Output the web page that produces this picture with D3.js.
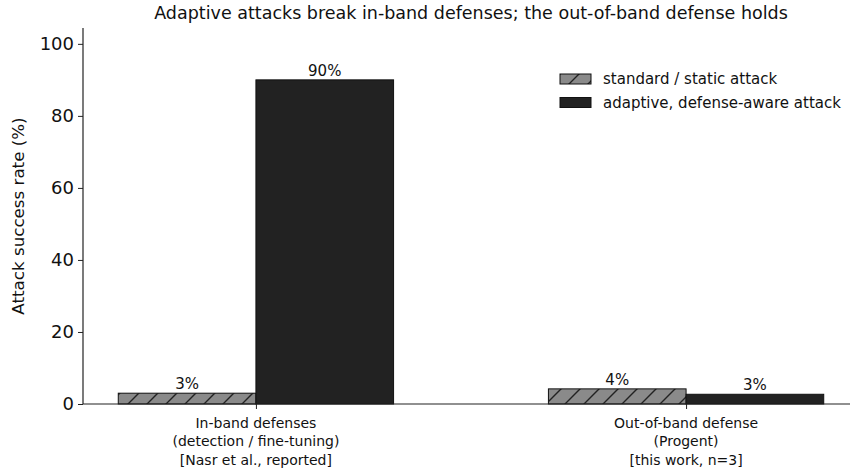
<!DOCTYPE html>
<html>
<head>
<meta charset="utf-8">
<script src="https://cdn.jsdelivr.net/npm/d3@7"></script>
<style>
  html, body { margin: 0; padding: 0; background: #fff; }
  svg { display: block; font-family: "DejaVu Sans", sans-serif; }
</style>
</head>
<body>
<div id="chart"></div>
<script>
// chart data
var categories = [
  ["In-band defenses", "(detection / fine-tuning)", "[Nasr et al., reported]"],
  ["Out-of-band defense", "(Progent)", "[this work, n=3]"]
];
var seriesNames = ["standard / static attack", "adaptive, defense-aware attack"];
var staticValues = [3, 4.2];
var adaptiveValues = [90, 2.7];
var yTicks = [0, 20, 40, 60, 80, 100];
var titleText = "Adaptive attacks break in-band defenses; the out-of-band defense holds";
var yLabel = "Attack success rate (%)";

var width = 850, height = 468;
var margin = { left: 83, top: 28, bottom: 64 };
var barWidth = 0.32;

var svg = d3.select("#chart").append("svg")
  .attr("width", width)
  .attr("height", height);

var defs = svg.append("defs");
var hatch = defs.append("pattern")
  .attr("id", "hatch")
  .attr("patternUnits", "userSpaceOnUse")
  .attr("width", 19)
  .attr("height", 19);
hatch.append("rect").attr("width", 19).attr("height", 19).attr("fill", "#8a8a8a");
hatch.append("path")
  .attr("d", "M-2,2 L2,-2 M0,19 L19,0 M17,21 L21,17")
  .attr("stroke", "#222").attr("stroke-width", 1.4);

// x in data units like matplotlib: groups at 0 and 1, 5% margins
var x = d3.scaleLinear()
  .domain([-0.402, 1.402])
  .range([margin.left, 859]);
var y = d3.scaleLinear()
  .domain([0, 104.4])
  .range([height - margin.bottom, margin.top]);

var fmt = function (v) { return d3.format(".0f")(v) + "%"; };

var groups = categories.map(function (c, i) {
  return [
    { key: 0, pos: i - barWidth / 2, value: staticValues[i] },
    { key: 1, pos: i + barWidth / 2, value: adaptiveValues[i] }
  ];
});
var bars = d3.merge(groups);

svg.selectAll("rect.bar")
  .data(bars)
  .enter().append("rect")
  .attr("class", "bar")
  .attr("x", function (d) { return x(d.pos - barWidth / 2); })
  .attr("width", function (d) { return x(barWidth) - x(0); })
  .attr("y", function (d) { return y(d.value); })
  .attr("height", function (d) { return y(0) - y(d.value); })
  .attr("fill", function (d) { return d.key === 0 ? "url(#hatch)" : "#222222"; })
  .attr("stroke", "#111")
  .attr("stroke-width", 1);

svg.selectAll("text.val")
  .data(bars)
  .enter().append("text")
  .attr("class", "val")
  .attr("x", function (d) { return x(d.pos); })
  .attr("y", function (d) { return y(d.value) - 4; })
  .attr("text-anchor", "middle")
  .attr("font-size", "15px")
  .attr("fill", "#111")
  .text(function (d) { return fmt(d.value); });

// axes
var yAxis = d3.axisLeft(y).tickValues(yTicks).tickSize(5).tickPadding(4);
var gy = svg.append("g")
  .attr("transform", "translate(" + margin.left + ",0)")
  .call(yAxis);
gy.select(".domain").attr("stroke", "#222").attr("stroke-width", 1.2)
  .attr("d", "M0," + y(104.4) + "V" + y(0));
gy.selectAll(".tick line").attr("stroke", "#222");
gy.selectAll(".tick text").attr("font-size", "18px").attr("fill", "#111")
  .attr("font-family", "DejaVu Sans, sans-serif");

var xAxis = d3.axisBottom(x).tickValues([0, 1]).tickSize(5).tickFormat("");
var gx = svg.append("g")
  .attr("transform", "translate(0," + y(0) + ")")
  .call(xAxis);
gx.select(".domain").attr("stroke", "#222").attr("stroke-width", 1.2)
  .attr("d", "M" + x(-0.402) + ",0H" + x(1.402));
gx.selectAll(".tick line").attr("stroke", "#222");

categories.forEach(function (lines, i) {
  var t = svg.append("text")
    .attr("x", x(i))
    .attr("y", y(0) + 24)
    .attr("text-anchor", "middle")
    .attr("font-size", "14px")
    .attr("fill", "#111");
  lines.forEach(function (ln, j) {
    t.append("tspan").attr("x", x(i)).attr("dy", j === 0 ? 0 : 18.3).text(ln);
  });
});

// y label
svg.append("text")
  .attr("transform", "translate(24," + ((y(0) + y(104.4)) / 2) + ") rotate(-90)")
  .attr("text-anchor", "middle")
  .attr("font-size", "16.7px")
  .attr("fill", "#111")
  .text(yLabel);

// title
svg.append("text")
  .attr("x", (x(-0.402) + x(1.402)) / 2)
  .attr("y", 19)
  .attr("text-anchor", "middle")
  .attr("font-size", "17.5px")
  .attr("fill", "#111")
  .text(titleText);

// legend
var legend = svg.append("g").attr("transform", "translate(560,74)");
seriesNames.forEach(function (name, i) {
  var g = legend.append("g").attr("transform", "translate(0," + (i * 23.5) + ")");
  g.append("rect")
    .attr("width", 31).attr("height", 10)
    .attr("fill", i === 0 ? "url(#hatch)" : "#222222")
    .attr("stroke", "#111").attr("stroke-width", 1);
  g.append("text")
    .attr("x", 43).attr("y", 10)
    .attr("font-size", "15px")
    .attr("fill", "#111")
    .text(name);
});
</script>
</body>
</html>
